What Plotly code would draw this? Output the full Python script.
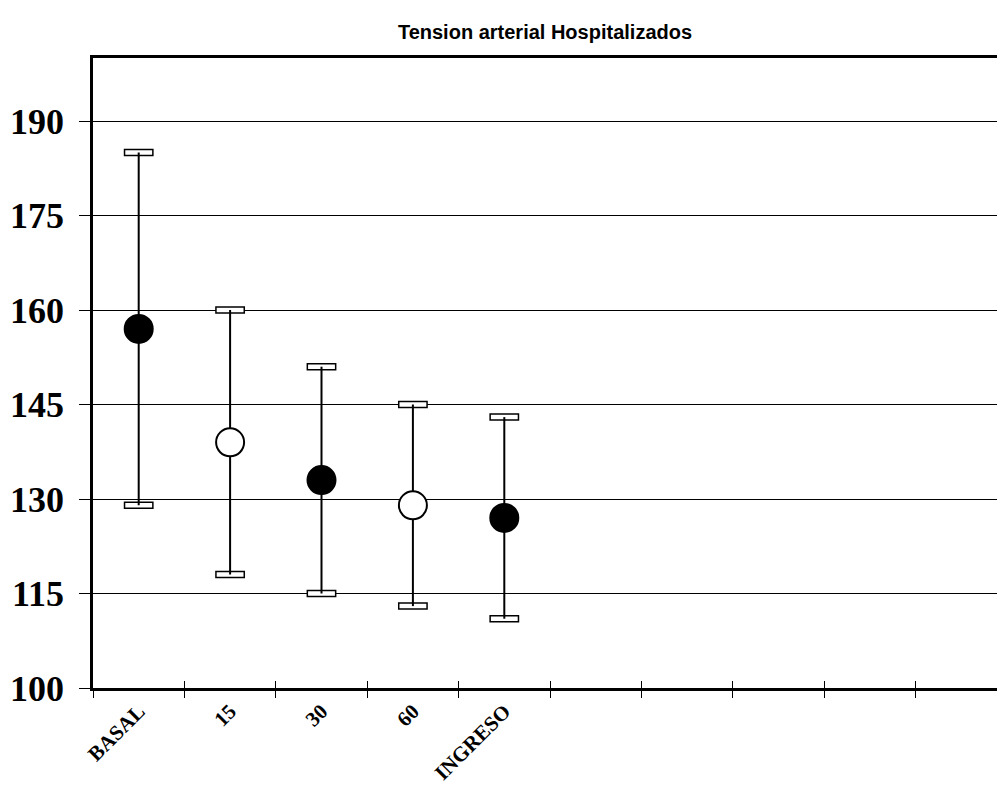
import plotly.graph_objects as go

categories = ["BASAL", "15", "30", "60", "INGRESO"]
means = [157, 139, 133, 129, 127]
upper = [185, 160, 151, 145, 143]
lower = [129, 118, 115, 113, 111]
fills = ["black", "white", "black", "white", "black"]
ytick_vals = [100, 115, 130, 145, 160, 175, 190]

xpos = [i + 0.5 for i in range(len(categories))]
n_slots = 10

fig = go.Figure()

# hollow rectangular caps
cap_h = 0.95
for vals in (upper, lower):
    fig.add_trace(go.Bar(
        x=xpos, y=[cap_h] * len(vals), base=[v - cap_h / 2 for v in vals],
        width=0.31, marker=dict(color="white", line=dict(color="black", width=1.5)),
        showlegend=False, hoverinfo="skip"))

fig.add_trace(go.Scatter(
    x=xpos, y=means, mode="markers",
    marker=dict(size=28, color=fills, line=dict(color="black", width=2)),
    error_y=dict(type="data", symmetric=False,
                 array=[u - m for u, m in zip(upper, means)],
                 arrayminus=[m - l for m, l in zip(means, lower)],
                 color="black", thickness=2, width=0),
    showlegend=False))

# inside ticks on an overlay axis
fig.add_trace(go.Scatter(x=[0], y=[100], xaxis="x2", mode="markers",
                         marker=dict(opacity=0), showlegend=False, hoverinfo="skip"))

xr = [0, 904 / 91.4]
fig.update_layout(
    width=997, height=786,
    margin=dict(l=93, r=0, t=58, b=98),
    paper_bgcolor="white", plot_bgcolor="white",
    barmode="overlay",
    title=dict(text="<b>Tension arterial Hospitalizados</b>", x=0.5, xref="paper",
               y=1 - 32 / 786, yanchor="middle",
               font=dict(family="Liberation Sans, Arial", size=20, color="black")),
    xaxis=dict(range=xr, tickvals=xpos, ticktext=categories, tickangle=-45,
               ticks="", showgrid=False, zeroline=False, automargin=False,
               showline=True, linecolor="black", linewidth=2.5, mirror=True,
               tickfont=dict(family="Liberation Serif, Times New Roman", size=21,
                             color="black", weight="bold"),
               minor=dict(tickvals=list(range(0, n_slots)), ticks="outside", ticklen=7,
                          tickcolor="black", tickwidth=1, showgrid=False)),
    xaxis2=dict(range=xr, overlaying="x", anchor="y", side="bottom",
                tickvals=list(range(1, n_slots)), ticks="inside", ticklen=7,
                tickcolor="black", tickwidth=1, showticklabels=False, automargin=False,
                showgrid=False, zeroline=False, showline=False),
    yaxis=dict(range=[100, 200], tickvals=ytick_vals, ticks="outside", ticklen=11,
               tickcolor="black", tickwidth=1.2, ticklabelstandoff=8, automargin=False,
               showgrid=True, gridcolor="black", gridwidth=1, zeroline=False,
               showline=True, linecolor="black", linewidth=2.5,
               tickfont=dict(family="Liberation Serif, Times New Roman", size=36,
                             color="black", weight="bold")),
)

fig.write_html("out.html")
